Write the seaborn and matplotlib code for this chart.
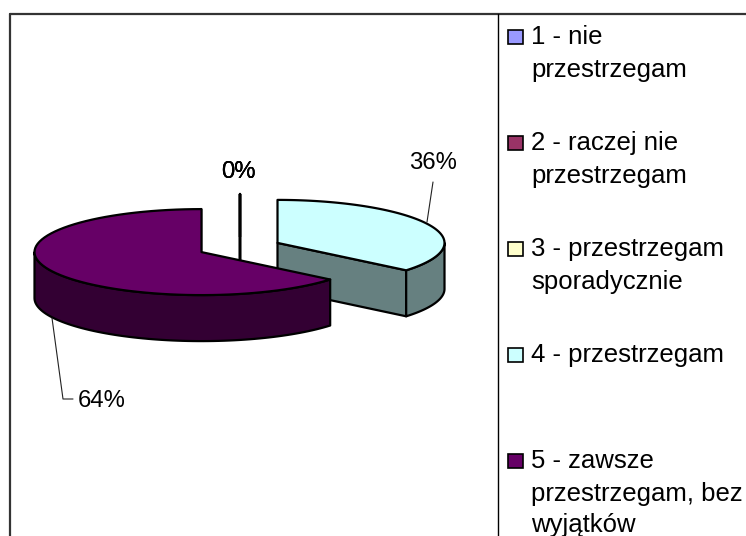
import numpy as np
import seaborn as sns
import matplotlib.pyplot as plt

categories = ['1 - nie\nprzestrzegam', '2 - raczej nie\nprzestrzegam',
              '3 - przestrzegam\nsporadycznie', '4 - przestrzegam',
              '5 - zawsze\nprzestrzegam, bez\nwyjątków']
values = [0, 0, 0, 36, 64]
colors = ['#9999FF', '#993366', '#FFFFCC', '#CCFFFF', '#660066']

# label anchors and legend baselines, in picture pixels
label_pos = [(238, 178), (238, 178), (238, 178), (432.5, 169), (101.5, 407)]
legend_base = [44, 150, 256, 362, 468]
line_step = [0, 32.5, 64]

# pie geometry
cx, cy = 239.5, 247.5
rx, ry = 167, 43
depth = 46
explode = 42

sns.set_theme(style='white')
plt.rcParams['font.family'] = ['Liberation Sans', 'DejaVu Sans']
palette = sns.color_palette(colors)


def rim(a, b):
    t = np.linspace(a, b, 80)
    return rx * np.sin(t), -ry * np.cos(t)


fig = plt.figure(figsize=(7.46, 5.36), dpi=100)
ax = fig.add_axes([0, 0, 1, 1])
ax.set_xlim(0, 746)
ax.set_ylim(536, 0)
ax.axis('off')

# slices clockwise from 12 o'clock
total = sum(values)
edges = np.concatenate([[0], np.cumsum(values)]) / total * 2 * np.pi
line = dict(edgecolor='black', linewidth=1.6, joinstyle='round')

for i, v in enumerate(values):
    a, b = edges[i], edges[i + 1]
    mid = (a + b) / 2
    x0 = cx + explode * np.sin(mid)
    y0 = cy - explode * np.cos(mid) * ry / rx
    top = np.array(palette[i])
    side = top * 0.5

    # flat cut face, then the outer wall on the near half
    xe, ye = rx * np.sin(b), -ry * np.cos(b)
    ax.fill([x0, x0 + xe, x0 + xe, x0],
            [y0, y0 + ye, y0 + ye + depth, y0 + depth],
            facecolor=side, **line)
    lo, hi = max(a, np.pi / 2), min(b, 3 * np.pi / 2)
    if hi > lo:
        xr, yr = rim(lo, hi)
        ax.fill(np.r_[x0 + xr, (x0 + xr)[::-1]],
                np.r_[y0 + yr, (y0 + yr + depth)[::-1]],
                facecolor=side, **line)
    xr, yr = rim(a, b)
    ax.fill(np.r_[x0, x0 + xr], np.r_[y0, y0 + yr], facecolor=top, **line)

# percent labels
for v, (lx, ly) in zip(values, label_pos):
    ax.text(lx, ly, f'{v / total:.0%}', fontsize=17.2, ha='center',
            va='baseline', color='black')

# leader lines
ax.plot([433, 427], [182, 222], color='#222222', lw=0.8)
ax.plot([52, 63, 73], [318, 399, 399], color='#222222', lw=0.8)

# frame and legend divider
ax.plot([10, 10], [536, 14], color='#333333', lw=1.6)
ax.plot([10, 746], [14, 14], color='#333333', lw=1.6)
ax.plot([498, 498], [14, 536], color='black', lw=1.0)

# legend
for name, c, base in zip(categories, palette, legend_base):
    ax.fill([508, 522.5, 522.5, 508],
            [base - 14, base - 14, base, base],
            facecolor=c, edgecolor='black', linewidth=1.2)
    for j, txt in enumerate(name.split('\n')):
        ax.text(531, base + line_step[j], txt, fontsize=18.5, ha='left',
                va='baseline', color='black')

fig.savefig('out.png', dpi=100)
plt.close(fig)
